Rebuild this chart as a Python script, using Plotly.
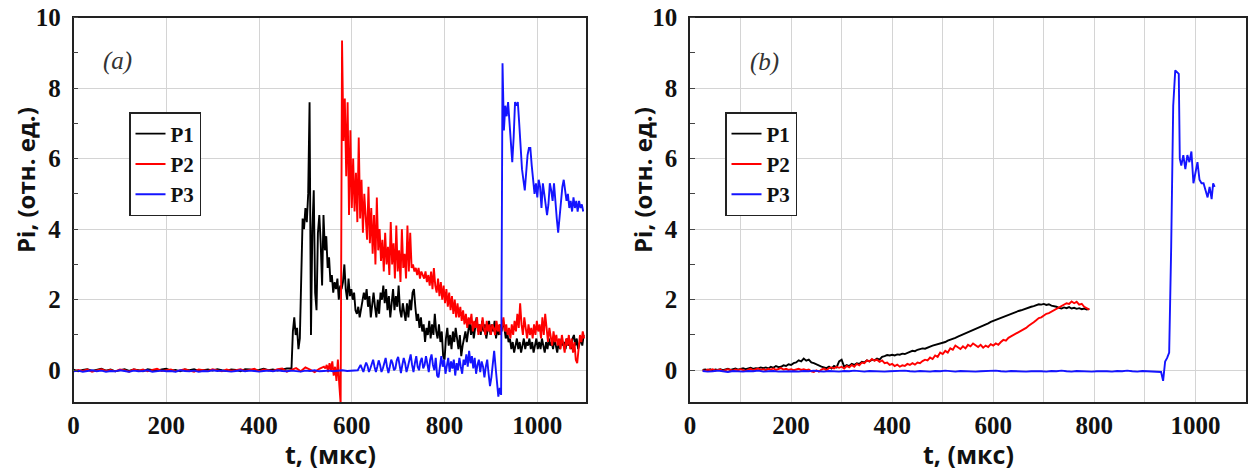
import numpy as np
import plotly.graph_objects as go

# ---------------- Panel (a): pressure signals, relative units ----------------
# Each signal is stored as sampled segments: start time (us), step (us), values.
P1A_BASE_T0, P1A_BASE_DT = 0, 10
P1A_BASE = [0.02, -0.03, 0.01, 0.03, -0.02, 0.00, 0.04, -0.01, 0.02, -0.03, 0.01, 0.03,
            -0.02, 0.02, 0.00, -0.03, 0.03, 0.01, -0.02, 0.02, 0.04, -0.01, 0.01, -0.03,
            0.02, 0.00, 0.03, -0.02, 0.01, 0.02, -0.01, 0.03, 0.00, -0.02, 0.02, 0.01,
            -0.03, 0.03, 0.02, -0.01, 0.01, 0.04, 0.00, 0.02, -0.01, 0.03, 0.05]
P1A_WAVE_T0, P1A_WAVE_DT = 470, 3
P1A_WAVE = [0.05, 1.1, 1.5, 1.0, 1.2, 0.6, 0.9, 3.0, 4.3, 4.0, 4.6, 4.2, 5.0, 7.6, 1.0, 4.0,
            5.1, 2.2, 1.7, 3.9, 4.4, 3.6, 2.4, 4.4, 3.4, 3.8, 2.9, 3.2, 2.5, 2.7, 2.2, 2.5,
            2.3, 2.6, 2.0, 2.4, 2.3, 2.5, 3.0, 2.3, 2.0, 2.6, 2.1, 2.3, 2.0, 2.2, 1.7, 1.6,
            1.8, 1.5, 1.7, 1.9, 2.2, 2.0, 2.3, 1.8, 2.1, 1.5, 1.9, 2.2, 1.8, 1.5, 2.0, 1.6,
            2.2, 2.0, 2.4, 1.9, 2.3, 1.7, 2.1, 1.5, 1.9, 2.3, 1.7, 2.1, 1.8, 2.4, 1.7, 1.5,
            1.9, 1.6, 1.4, 1.9, 1.5, 2.0, 1.7, 2.2, 2.3, 1.8, 1.4, 1.6, 1.2, 1.5, 1.1, 1.3,
            0.8, 1.2, 1.0, 1.4, 0.9, 1.3, 1.0, 1.6, 1.1, 0.9, 1.3, 0.8, 1.1, 0.4, 0.3, 0.9,
            1.2, 0.7, 1.0, 0.6, 1.1, 0.8, 1.2, 0.9, 0.6, 1.0, 0.4, 0.7, 0.9, 1.1, 0.8, 1.2,
            1.4, 1.0, 1.3, 0.9, 1.2, 1.5, 1.1, 1.3, 1.0, 1.4, 1.1, 1.3, 0.9, 1.2, 1.4, 1.0,
            1.3, 1.1, 1.4, 0.9, 1.2, 1.0, 1.3, 1.1, 1.4, 1.2, 0.9, 1.1, 0.8, 0.9, 0.6, 0.8,
            0.5, 0.7, 0.9, 0.6, 0.8, 0.5, 0.7, 0.9, 0.6, 0.8, 0.7, 0.9, 0.6, 0.8, 0.5, 0.7,
            0.9, 0.6, 0.8, 0.6, 0.9, 0.7, 0.5, 0.8, 0.6, 0.9, 0.7, 0.8, 0.6, 0.9, 0.7, 0.5,
            0.8, 0.6, 0.9, 0.7, 0.8, 0.6, 0.9, 0.7, 0.8, 0.6, 0.9, 1.0, 0.7, 0.9, 0.6, 0.8,
            0.9, 0.7, 1.0]

P2A_BASE_T0, P2A_BASE_DT = 0, 10
P2A_BASE = [-0.03, 0.01, -0.02, 0.02, -0.04, 0.00, 0.03, -0.02, 0.01, -0.03, 0.02, 0.00,
            -0.04, 0.03, -0.01, 0.02, -0.03, 0.01, 0.04, -0.02, 0.00, 0.02, -0.03, 0.01,
            0.03, -0.01, -0.04, 0.02, 0.00, -0.02, 0.03, 0.01, -0.03, 0.02, -0.01, 0.00,
            0.03, -0.02, 0.01, 0.04, -0.03, 0.02, 0.00, -0.02, 0.03, 0.05, -0.04, 0.02,
            0.06, -0.03, 0.08, 0.02, -0.05, 0.04, 0.10]
P2A_WAVE_T0, P2A_WAVE_DT = 543, 3
P2A_WAVE = [0.05, 0.15, -0.05, 0.2, 0.0, 0.25, -0.15, 0.1, -0.3, 0.3, -0.4, -0.95, 9.35,
            6.5, 7.7, 5.5, 7.6, 4.4, 6.8, 4.6, 6.0, 4.5, 5.6, 4.2, 6.6, 4.3, 5.4, 3.9, 5.0,
            4.2, 3.7, 5.2, 3.6, 4.6, 3.3, 4.4, 3.0, 4.9, 3.4, 4.0, 3.1, 3.7, 2.8, 3.9, 3.0,
            3.5, 2.7, 4.2, 3.0, 3.6, 2.6, 4.1, 2.8, 3.4, 2.5, 4.0, 2.9, 3.3, 2.6, 4.1, 2.8,
            3.9, 2.9, 3.0, 2.8, 2.9, 2.7, 2.9, 2.6, 2.8, 2.7, 2.6, 2.8, 2.5, 2.7, 2.4, 2.8,
            2.3, 2.9, 2.4, 2.2, 2.6, 2.1, 2.5, 2.0, 2.4, 1.9, 2.3, 1.8, 2.2, 1.7, 2.1, 1.6,
            2.0, 1.5, 1.9, 1.5, 1.8, 1.4, 1.7, 1.3, 1.6, 1.2, 1.5, 1.3, 1.6, 1.1, 1.4, 1.2,
            1.5, 1.0, 1.3, 1.1, 1.5, 1.2, 1.0, 1.4, 1.1, 1.3, 1.0, 1.3, 1.2, 1.0, 1.4, 1.1,
            1.3, 1.0, 1.2, 1.5, 1.1, 1.3, 1.0, 1.2, 0.9, 1.3, 1.0, 1.4, 1.1, 1.6, 1.2, 1.9,
            1.3, 1.0, 1.5, 1.1, 0.9, 1.3, 1.0, 1.2, 0.9, 1.3, 1.0, 1.4, 1.1, 1.3, 0.9, 1.5,
            1.0, 1.6, 1.1, 0.8, 1.2, 0.9, 0.7, 1.1, 0.8, 1.0, 0.7, 0.9, 0.6, 1.0, 0.8, 0.5,
            0.9, 0.7, 1.0, 0.6, 0.9, 0.5, 0.8, 0.3, 0.2, 0.7, 1.0, 0.8, 1.1, 0.9]

P3A_BASE_T0, P3A_BASE_DT = 0, 10
P3A_BASE = [-0.03, -0.01, -0.04, -0.02, 0.00, -0.03, -0.01, -0.04, -0.02, -0.03, 0.00,
            -0.02, -0.04, -0.01, -0.03, -0.02, 0.00, -0.04, -0.02, -0.01, -0.03, -0.02,
            -0.04, 0.00, -0.02, -0.03, -0.01, -0.04, -0.02, -0.03, 0.00, -0.02, -0.01,
            -0.03, -0.04, -0.02, 0.00, -0.03, -0.01, -0.02, -0.04, -0.02, -0.01, -0.03,
            0.00, -0.02, -0.03, -0.01, -0.02, -0.04, -0.01, -0.02, 0.00, -0.03, -0.02,
            -0.01, -0.03, -0.02, 0.00, -0.02, -0.01, -0.02]
P3A_WAVE_T0, P3A_WAVE_DT = 613, 3
P3A_WAVE = [0.0, 0.08, 0.15, 0.05, -0.05, 0.1, 0.22, 0.12, -0.05, 0.05, 0.2, 0.3, 0.1,
            -0.05, 0.1, 0.28, 0.15, -0.05, 0.05, 0.25, 0.35, 0.1, -0.08, 0.1, 0.3, 0.2, 0.0,
            0.05, 0.28, 0.38, 0.12, -0.08, 0.15, 0.35, 0.2, -0.05, 0.1, 0.3, 0.45, 0.15,
            -0.05, 0.2, 0.4, 0.1, 0.0, 0.25, 0.35, 0.05, 0.15, 0.4, 0.1, -0.05, 0.3, 0.45,
            0.15, 0.0, 0.35, -0.15, -0.2, 0.2, 0.4, 0.1, 0.3, -0.1, 0.2, 0.35, -0.05, 0.25,
            0.05, 0.3, -0.15, 0.2, 0.0, 0.35, 0.1, -0.1, 0.3, 0.15, 0.45, 0.1, 0.55, 0.2,
            0.4, 0.05, 0.35, -0.1, 0.15, 0.3, -0.05, 0.25, 0.1, -0.2, 0.1, 0.3, -0.1, -0.45,
            -0.2, 0.2, 0.55, 0.1, -0.3, -0.75, -0.5, -0.7, 8.7, 6.8, 7.5, 7.2, 7.6, 7.0,
            6.6, 5.9, 6.6, 7.6, 7.5, 7.6, 7.0, 6.3, 5.7, 5.4, 5.1, 5.6, 6.1, 6.3, 6.3, 5.8,
            5.4, 5.0, 5.3, 4.9, 5.4, 5.2, 4.6, 5.3, 5.0, 4.6, 4.4, 4.7, 5.3, 5.1, 4.8, 5.3,
            4.7, 4.3, 3.9, 4.4, 4.8, 5.2, 5.4, 5.0, 4.8, 5.0, 4.6, 4.8, 4.5, 4.9, 4.6, 4.8,
            4.5, 4.8, 4.6, 4.7, 4.5]

# ---------------- Panel (b) ----------------
P1B_T0, P1B_DT = 25, 5
P1B = [0.01, 0.02, 0.00, 0.03, -0.01, 0.02, 0.01, 0.03, 0.00, 0.02, 0.04, 0.01, 0.03,
       0.05, 0.02, 0.04, 0.06, 0.03, 0.05, 0.07, 0.04, 0.06, 0.05, 0.08, 0.06,
       0.08, 0.05, 0.10, 0.07, 0.12, 0.09, 0.10, 0.14, 0.12, 0.17, 0.15, 0.20, 0.22,
       0.28, 0.25, 0.33, 0.27, 0.30, 0.22, 0.20, 0.16, 0.13, 0.10, 0.08, 0.06, 0.10,
       0.05, 0.12, 0.08, 0.25, 0.30, 0.10, 0.15, 0.12, 0.18, 0.15, 0.20, 0.18, 0.24,
       0.22, 0.28, 0.25, 0.30, 0.28, 0.33, 0.30, 0.38, 0.40, 0.43, 0.42, 0.44, 0.42,
       0.45, 0.44, 0.47, 0.46, 0.50, 0.52, 0.55, 0.54, 0.58, 0.60, 0.62, 0.61, 0.65,
       0.67, 0.70, 0.72, 0.74, 0.75, 0.78, 0.80, 0.84, 0.86, 0.88, 0.92, 0.95, 0.98,
       1.02, 1.05, 1.08, 1.10, 1.14, 1.17, 1.20, 1.24, 1.27, 1.30, 1.33, 1.37, 1.40,
       1.42, 1.46, 1.49, 1.52, 1.55, 1.58, 1.61, 1.63, 1.66, 1.68, 1.70, 1.73, 1.75,
       1.77, 1.80, 1.82, 1.84, 1.87, 1.86, 1.88, 1.85, 1.87, 1.83, 1.82, 1.80, 1.77,
       1.75, 1.78, 1.76, 1.79, 1.75, 1.77, 1.74, 1.76, 1.73, 1.75, 1.72, 1.74]

P2B_T0, P2B_DT = 25, 5
P2B = [0.00, -0.02, 0.02, 0.00, 0.03, -0.01, 0.01, 0.02, -0.02, 0.00, 0.03, 0.01,
       -0.01, 0.02, 0.00, 0.03, 0.01, -0.02, 0.02, 0.04, 0.00, 0.02, 0.05, 0.01, 0.03,
       0.00, 0.04, 0.02, 0.05, 0.01, 0.03, 0.06, 0.02, 0.04, 0.01, 0.03, 0.00, 0.02,
       0.04, 0.01, 0.03, 0.00, 0.02, -0.03, -0.05, 0.00, -0.04, 0.02, 0.05, 0.00, 0.06,
       0.08, 0.05, 0.10, 0.07,
       0.10, 0.05, 0.12, 0.08, 0.15, 0.10, 0.18, 0.14, 0.22, 0.20, 0.28, 0.25, 0.32,
       0.27, 0.30, 0.24, 0.28, 0.20, 0.22, 0.15, 0.18, 0.12, 0.16, 0.10, 0.14, 0.12,
       0.18, 0.15, 0.20, 0.16, 0.22, 0.20, 0.26, 0.30, 0.28, 0.36, 0.32, 0.42, 0.38,
       0.50, 0.46, 0.55, 0.50, 0.62, 0.58, 0.70, 0.65, 0.60, 0.68, 0.62, 0.72, 0.68,
       0.76, 0.70, 0.66, 0.72, 0.64, 0.70, 0.66, 0.74, 0.70, 0.76, 0.72, 0.80, 0.86,
       0.84, 0.92, 0.96, 1.00, 1.02, 1.08, 1.12, 1.15, 1.20, 1.26, 1.30, 1.36, 1.42,
       1.48, 1.50, 1.55, 1.60, 1.62, 1.66, 1.72, 1.76, 1.80, 1.84, 1.86, 1.90, 1.88,
       1.95, 1.90, 1.94, 1.86, 1.88, 1.80, 1.76, 1.72]

P3B_BASE_T0, P3B_BASE_DT = 25, 10
P3B_BASE = [-0.02, -0.04, -0.03, -0.01, -0.03, -0.05, -0.02, -0.03, -0.04, -0.02,
            -0.03, -0.01, -0.04, -0.03, -0.02, -0.04, -0.03, -0.02, -0.03, -0.04,
            -0.02, -0.03, -0.01, -0.03, -0.04, -0.02, -0.03, -0.04, -0.02, -0.03,
            -0.01, -0.03, -0.04, -0.02, -0.03, -0.02, -0.04, -0.03, -0.02, -0.03,
            -0.01, -0.03, -0.04, -0.02, -0.03, -0.04, -0.02, -0.03, -0.01, -0.03,
            -0.04, -0.02, -0.03, -0.02, -0.04, -0.03, -0.02, -0.03, -0.01, -0.03,
            -0.04, -0.02, -0.03, -0.02, -0.04, -0.03, -0.02, -0.03, -0.04, -0.02,
            -0.03, -0.01, -0.03, -0.04, -0.02, -0.03, -0.02, -0.04, -0.03, -0.02,
            -0.03, -0.04, -0.02, -0.03, -0.01, -0.03, -0.04, -0.02, -0.03, -0.02, -0.03]
P3B_JUMP_T = [932, 936, 940, 944, 948, 952, 956, 960, 964, 967, 969, 972, 976, 980,
              984, 988, 992, 996, 1000, 1004, 1008, 1012, 1016, 1020, 1024, 1028, 1032,
              1035, 1038]
P3B_JUMP = [-0.05, -0.3, 0.25, 0.35, 0.5, 3.5, 7.5, 8.5, 8.45, 8.4, 6.0, 5.8, 6.1, 5.7,
            6.1, 5.9, 6.2, 5.3, 5.6, 5.9, 5.4, 5.3, 5.3, 5.1, 4.9, 5.2, 4.85, 5.3, 5.2]

SERIES_NAMES = ["P1", "P2", "P3"]
SERIES_COLORS = ["#000000", "#ff0000", "#1414ff"]


def segments(*parts):
    """Join (t0, dt, values) sampled segments into one time/value pair."""
    ts, vs = [], []
    for t0, dt, vals in parts:
        ts.append(t0 + dt * np.arange(len(vals)))
        vs.append(np.asarray(vals, dtype=float))
    return np.concatenate(ts), np.concatenate(vs)


panel_a = [
    segments((P1A_BASE_T0, P1A_BASE_DT, P1A_BASE), (P1A_WAVE_T0, P1A_WAVE_DT, P1A_WAVE)),
    segments((P2A_BASE_T0, P2A_BASE_DT, P2A_BASE), (P2A_WAVE_T0, P2A_WAVE_DT, P2A_WAVE)),
    segments((P3A_BASE_T0, P3A_BASE_DT, P3A_BASE), (P3A_WAVE_T0, P3A_WAVE_DT, P3A_WAVE)),
]
t3b_base, v3b_base = segments((P3B_BASE_T0, P3B_BASE_DT, P3B_BASE))
panel_b = [
    segments((P1B_T0, P1B_DT, P1B)),
    segments((P2B_T0, P2B_DT, P2B)),
    (np.concatenate([t3b_base, P3B_JUMP_T]), np.concatenate([v3b_base, P3B_JUMP])),
]

W, H = 1251, 474
fig = go.Figure()

for i, (t, v) in enumerate(panel_a):
    fig.add_trace(go.Scatter(x=t, y=v, mode="lines", name=SERIES_NAMES[i],
                             line=dict(color=SERIES_COLORS[i], width=1.9),
                             xaxis="x", yaxis="y", legend="legend"))
for i, (t, v) in enumerate(panel_b):
    fig.add_trace(go.Scatter(x=t, y=v, mode="lines", name=SERIES_NAMES[i],
                             line=dict(color=SERIES_COLORS[i], width=1.9),
                             xaxis="x2", yaxis="y2", legend="legend2"))

tick_font = dict(family="Liberation Serif", size=25, color="#111111", weight="bold")
grid_col = "#d4d4d4"
ydom = [1 - 402 / H, 1 - 17.5 / H]

common_y = dict(range=[-0.9, 10], tickvals=[0, 2, 4, 6, 8, 10], showgrid=True,
                gridcolor=grid_col, gridwidth=1, zeroline=False, showline=True,
                linecolor="#222222", linewidth=1.6, mirror=True, ticks="",
                tickfont=tick_font, domain=ydom, automargin=False, ticklabelstandoff=6,
                minor=dict(dtick=1, tick0=1, ticks="inside", ticklen=5,
                           tickcolor="#444444", tickwidth=1, showgrid=False))
common_x = dict(range=[0, 1100], tickvals=[0, 200, 400, 600, 800, 1000], showgrid=True,
                gridcolor=grid_col, gridwidth=1, zeroline=False, showline=True,
                linecolor="#222222", linewidth=1.6, mirror=True, ticks="",
                tickfont=tick_font, automargin=False)

legend_font = dict(family="Liberation Serif", size=21, color="#111111", weight="bold")

fig.update_layout(
    template="none",
    width=W, height=H,
    margin=dict(l=0, r=0, t=0, b=0, autoexpand=False),
    paper_bgcolor="white", plot_bgcolor="white",
    xaxis=dict(common_x, domain=[73.5 / W, 586 / W], anchor="y", range=[0, 1105]),
    yaxis=dict(common_y, anchor="x"),
    xaxis2=dict(common_x, domain=[690 / W, 1246 / W], anchor="y2",
                minor=dict(dtick=100, tick0=0, showgrid=True, gridcolor=grid_col,
                           gridwidth=1, ticks="")),
    yaxis2=dict(common_y, anchor="x2"),
    legend=dict(x=129 / W, y=1 - 112 / H, xanchor="left", yanchor="top",
                bgcolor="white", bordercolor="#222222", borderwidth=1.5,
                font=legend_font, itemwidth=30, tracegroupgap=0),
    legend2=dict(x=725 / W, y=1 - 112 / H, xanchor="left", yanchor="top",
                 bgcolor="white", bordercolor="#222222", borderwidth=1.5,
                 font=legend_font, itemwidth=30, tracegroupgap=0),
    showlegend=True,
)

ytitle_font = dict(family="Open Sans", size=24, color="#111111", weight="bold")
xtitle_font = dict(family="Open Sans", size=25, color="#111111", weight="bold")
label_font = dict(family="Liberation Serif", size=25, color="#333333", style="italic")
for xpix in (25, 642):
    fig.add_annotation(xref="paper", yref="paper", x=xpix / W, y=1 - 180 / H,
                       text="Pi, (отн. ед.)", textangle=-90, showarrow=False,
                       font=ytitle_font, xanchor="center", yanchor="middle")
for xpix in (330, 968):
    fig.add_annotation(xref="paper", yref="paper", x=xpix / W, y=1 - 454 / H,
                       text="t, (мкс)", showarrow=False, font=xtitle_font,
                       xanchor="center", yanchor="middle")
fig.add_annotation(xref="paper", yref="paper", x=117 / W, y=1 - 61 / H, text="(a)",
                   showarrow=False, font=label_font, xanchor="center", yanchor="middle")
fig.add_annotation(xref="paper", yref="paper", x=764 / W, y=1 - 62 / H, text="(b)",
                   showarrow=False, font=label_font, xanchor="center", yanchor="middle")

fig.write_html("out.html")
